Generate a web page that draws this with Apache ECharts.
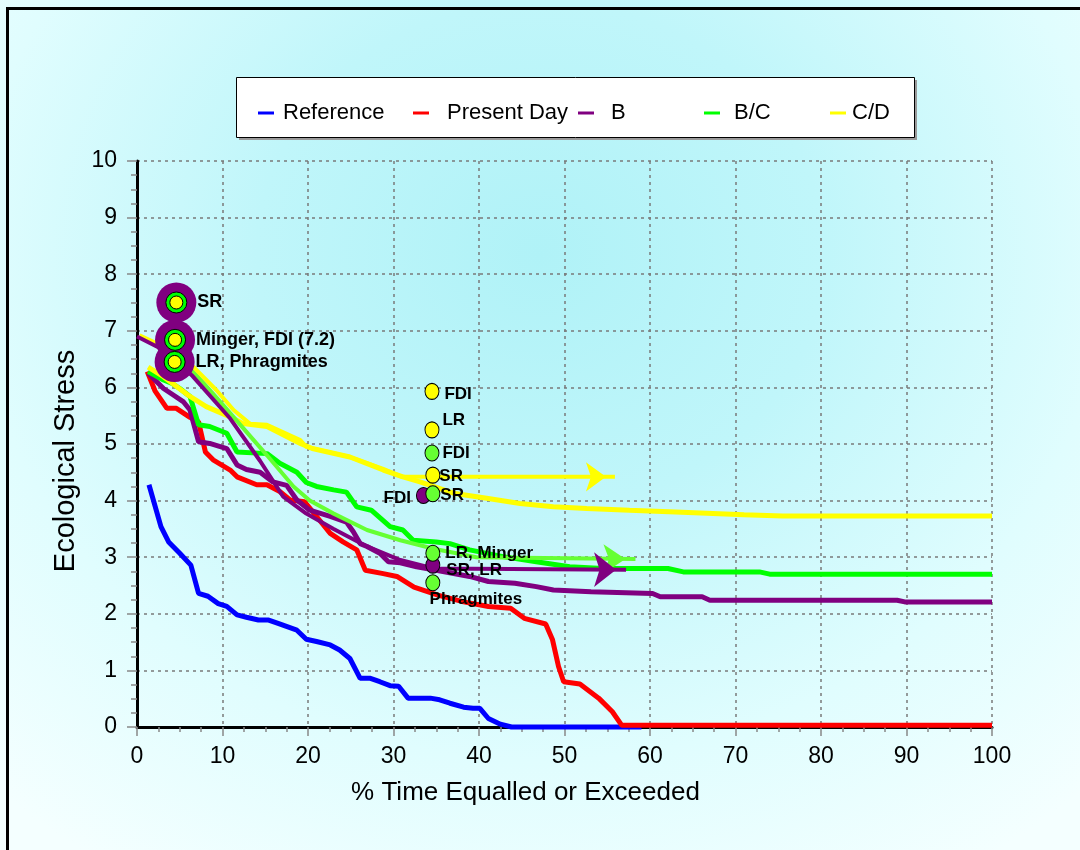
<!DOCTYPE html>
<html>
<head>
<meta charset="utf-8">
<script src="https://cdn.jsdelivr.net/npm/echarts@6/dist/echarts.min.js"></script>
<style>
  html, body { margin: 0; padding: 0; width: 1080px; height: 850px; overflow: hidden; }
  body { background: radial-gradient(ellipse 75% 85% at 50% 30%, #b0f2f7 0%, #c0f6fa 35%, #e0fdfe 70%, #f4ffff 100%); }
  #frame { position: absolute; left: 6px; top: 7px; width: 1080px; height: 850px; border-top: 3px solid #000; border-left: 3px solid #000; box-sizing: border-box; }
  #chart { position: absolute; left: 0; top: 0; width: 1080px; height: 850px; }
</style>
</head>
<body>
<div id="frame"></div>
<div id="chart"></div>
<script>
// ---------- data ----------
const seriesNames = ['Reference', 'Present Day', 'B', 'B/C', 'C/D'];

const reference = [[1.4,4.28],[2.8,3.54],[3.7,3.27],[5.0,3.07],[6.3,2.86],[7.2,2.36],[8.3,2.31],[9.5,2.18],[10.5,2.13],[11.7,1.98],[12.8,1.94],[14.2,1.89],[15.4,1.89],[16.5,1.83],[18.7,1.71],[19.8,1.55],[21.0,1.51],[22.6,1.45],[23.7,1.36],[24.9,1.21],[26.1,0.86],[27.3,0.86],[28.4,0.80],[29.6,0.73],[30.6,0.72],[31.7,0.51],[34.3,0.51],[35.4,0.48],[36.6,0.42],[38.2,0.35],[39.3,0.33],[40.1,0.33],[41.1,0.15],[42.5,0.05],[43.8,0.0],[59.0,0.0]];

const presentDay = [[1.2,6.28],[2.1,5.94],[3.5,5.63],[4.6,5.63],[6.2,5.47],[7.2,5.39],[8.0,4.86],[8.9,4.72],[10.9,4.54],[11.7,4.42],[14.0,4.28],[15.2,4.28],[16.7,4.16],[17.9,4.01],[19.6,3.98],[21.0,3.72],[22.6,3.42],[24.1,3.27],[25.7,3.13],[26.7,2.77],[28.8,2.71],[30.4,2.66],[32.4,2.47],[35.2,2.33],[38.2,2.21],[41.1,2.13],[43.7,2.10],[45.3,1.92],[47.8,1.82],[48.6,1.54],[49.3,1.07],[49.9,0.80],[51.8,0.76],[54.0,0.51],[55.6,0.27],[56.7,0.03],[100,0.03]];

const scenarioB = [[1.3,6.25],[3.1,5.98],[4.2,5.87],[5.4,5.75],[6.2,5.60],[7.2,5.04],[8.5,5.01],[10.5,4.92],[11.7,4.63],[12.8,4.55],[14.4,4.50],[15.9,4.33],[17.5,4.27],[18.7,4.01],[20.2,3.83],[22.6,3.72],[24.5,3.62],[25.3,3.45],[26.1,3.24],[26.9,3.19],[28.4,3.07],[29.4,2.92],[30.8,2.90],[32.7,2.83],[35.0,2.77],[38.9,2.66],[41.1,2.57],[44.2,2.54],[46.7,2.48],[48.7,2.42],[53.1,2.39],[60.3,2.36],[61.2,2.30],[66.1,2.30],[67.0,2.24],[88.9,2.24],[89.8,2.21],[100,2.21]];

const scenarioBC = [[1.3,6.28],[3.1,6.13],[4.1,6.07],[5.0,5.98],[6.2,5.84],[7.2,5.34],[8.5,5.31],[10.5,5.19],[11.7,4.86],[15.2,4.83],[16.7,4.66],[18.7,4.50],[19.8,4.32],[21.0,4.25],[23.0,4.19],[24.5,4.15],[25.7,3.89],[27.4,3.83],[29.6,3.54],[31.1,3.48],[32.3,3.30],[35.0,3.27],[36.6,3.24],[38.9,3.13],[42.8,3.01],[46.7,2.92],[50.6,2.83],[54.5,2.80],[62.1,2.80],[63.9,2.74],[72.8,2.74],[74.0,2.70],[100,2.70]];

const scenarioCD = [[1.3,6.36],[3.1,6.19],[6.2,5.84],[8.1,5.66],[10.9,5.48],[12.4,5.36],[15.2,5.31],[19.1,5.01],[20.5,4.92],[24.9,4.77],[27.3,4.63],[28.8,4.54],[31.1,4.42],[33.1,4.33],[37.0,4.13],[40.9,4.04],[44.8,3.95],[48.7,3.89],[52.6,3.86],[57.6,3.83],[63.0,3.80],[71.0,3.75],[75.5,3.73],[100,3.73]];

// trend arrows
const arrowB = [[0,6.9],[3,6.67],[6.5,6.2],[10.9,5.45],[14.4,4.7],[17.1,4.07],[19.8,3.77],[23.0,3.5],[26.9,3.19],[30.8,2.95],[34.7,2.80],[57.2,2.78]];
const arrowBC = [[4.5,6.6],[6.4,6.31],[10.0,5.7],[15.2,4.8],[18.3,4.25],[20.2,4.0],[23.0,3.77],[26.9,3.48],[30.8,3.30],[34.7,3.15],[39.7,3.0],[58.3,2.97]];
const arrowCD = [[0.3,6.92],[3.1,6.72],[6.6,6.36],[9.3,5.95],[11.3,5.6],[13.2,5.36],[15.2,5.34],[19.1,5.07],[19.8,4.95],[24.9,4.77],[28.8,4.56],[31.0,4.42],[55.9,4.42]];

// site markers
const bigMarkers = [[4.6,7.5,'SR'],[4.45,6.84,'Minger, FDI (7.2)'],[4.4,6.45,'LR, Phragmites']];
const yellowMarkers = [[34.5,5.93,'FDI'],[34.5,5.25,'LR'],[34.6,4.45,'SR']];
const purpleMarkers = [[33.5,4.09,'FDI'],[34.6,2.86,'SR, LR']];
const greenMarkers = [[34.5,4.84,'FDI'],[34.6,4.12,'SR'],[34.6,3.07,'LR, Minger'],[34.6,2.55,'Phragmites']];

const xTicks = { min: 0, max: 100, interval: 10 };
const yTicks = { min: 0, max: 10, interval: 1 };

// ---------- styles ----------
const FONT = '"Liberation Sans", Arial, Helvetica, sans-serif';
const colors = { ref: '#0000ff', pd: '#ff0000', b: '#800080', bc: '#00ff00', cd: '#ffff00', lg: '#66ff33' };

const labelOffsets = {
  'yellow-FDI': { position: 'right', offset: [2, 3] },
  'yellow-LR': { position: 'right', offset: [0, -10] },
  'yellow-SR': { position: 'right', offset: [-4, 1] },
  'green-FDI': { position: 'right', offset: [0, 0] },
  'green-SR': { position: 'right', offset: [-3, 2] },
  'green-LR, Minger': { position: 'right', offset: [2, 0] },
  'green-Phragmites': { position: 'bottom', offset: [43, -3] },
  'purple-FDI': { position: 'left', offset: [-2, 3] },
  'purple-SR, LR': { position: 'right', offset: [3, 5] }
};

function lineSeries(name, data, color, width, z) {
  return {
    name: name, type: 'line', data: data, showSymbol: false, symbol: 'none',
    lineStyle: { color: color, width: width }, itemStyle: { color: color },
    z: z, animation: false, clip: false
  };
}

function markerSeries(group, pts, color, size) {
  return {
    type: 'scatter', z: 20, animation: false,
    data: pts.map(p => {
      const lo = labelOffsets[group + '-' + p[2]];
      return {
        value: [p[0], p[1]],
        label: { show: true, formatter: p[2], position: lo.position, offset: lo.offset, distance: 3 }
      };
    }),
    symbol: 'circle', symbolSize: size,
    itemStyle: { color: color, borderColor: '#000', borderWidth: 1, opacity: 1 },
    label: { color: '#000', fontWeight: 'bold', fontSize: 17, fontFamily: FONT }
  };
}

function arrowHead(data, color, size) {
  const last = data[data.length - 1];
  return {
    type: 'scatter', z: 9, animation: false, silent: true,
    data: [last],
    symbol: 'arrow', symbolRotate: -90, symbolSize: size, symbolOffset: [-size[1] / 2 + 1, 0],
    itemStyle: { color: color, opacity: 1 }
  };
}

const chart = echarts.init(document.getElementById('chart'), null, { renderer: 'canvas' });

const legendLefts = [253, 408, 573, 699, 825];
const legendPads = [4, 13, 12, 9, 1];
const legends = seriesNames.map((n, i) => ({
  data: [n], left: legendLefts[i], top: 97, icon: 'rect', itemWidth: 16, itemHeight: 3,
  itemGap: 0, selectedMode: false,
  textStyle: { fontSize: 22, fontFamily: FONT, color: '#000', padding: [0, 0, 0, legendPads[i]] }
}));

const option = {
  backgroundColor: 'transparent',
  textStyle: { fontFamily: FONT },
  legend: legends,
  graphic: [
    { type: 'rect', left: 239, top: 80, shape: { width: 678, height: 60 }, style: { fill: '#9a9a9a' }, z: -2 },
    { type: 'rect', left: 236, top: 77, shape: { width: 678, height: 60 }, style: { fill: '#fff', stroke: '#000', lineWidth: 1 }, z: -1 }
  ],
  grid: { left: 137, right: 88, top: 161, bottom: 123, containLabel: false },
  xAxis: {
    type: 'value', min: xTicks.min, max: xTicks.max, interval: xTicks.interval,
    name: '% Time Equalled or Exceeded', nameLocation: 'middle', nameGap: 53,
    nameTextStyle: { fontSize: 26, color: '#000', fontFamily: FONT, padding: [0, 78, 0, 0] },
    axisLine: { show: true, onZero: false, lineStyle: { color: '#000', width: 3 } },
    axisTick: { show: true, length: 9, lineStyle: { color: '#888', width: 1.5 } },
    minorTick: { show: true, splitNumber: 4, length: 5, lineStyle: { color: '#888', width: 1.5 } },
    axisLabel: { fontSize: 23, color: '#000', margin: 18, fontFamily: FONT },
    splitLine: { show: true, lineStyle: { color: '#7a7a7a', type: [3, 4], width: 1.5 } }
  },
  yAxis: [{
    type: 'value', min: yTicks.min, max: yTicks.max, interval: yTicks.interval,
    name: 'Ecological Stress', nameLocation: 'middle', nameGap: 50,
    nameTextStyle: { fontSize: 29, color: '#000', fontFamily: FONT, padding: [0, 34, 0, 0] },
    axisLine: { show: true, onZero: false, lineStyle: { color: '#000', width: 3 } },
    axisTick: { show: true, length: 10, lineStyle: { color: '#888', width: 1.5 } },
    minorTick: { show: true, splitNumber: 4, length: 6, lineStyle: { color: '#888', width: 1.5 } },
    axisLabel: { fontSize: 23, color: '#000', margin: 20, fontFamily: FONT },
    splitLine: { show: true, lineStyle: { color: '#7a7a7a', type: [3, 4], width: 1.5 } }
  }, {
    type: 'value', min: yTicks.min, max: yTicks.max, interval: yTicks.interval, position: 'right',
    axisLine: { show: true, lineStyle: { color: '#000', width: 1 } },
    axisTick: { show: false }, axisLabel: { show: false }, splitLine: { show: false }
  }],
  series: [
    lineSeries('Reference', reference, colors.ref, 5, 2),
    lineSeries('Present Day', presentDay, colors.pd, 5, 3),
    lineSeries('B', scenarioB, colors.b, 5, 4),
    lineSeries('B/C', scenarioBC, colors.bc, 5, 5),
    lineSeries('C/D', scenarioCD, colors.cd, 5, 6),
    lineSeries('arrowBC', arrowBC, colors.lg, 4, 7),
    lineSeries('arrowB', arrowB, colors.b, 4, 8),
    lineSeries('arrowCD', arrowCD, colors.cd, 4, 7),
    arrowHead(arrowBC, colors.lg, [22, 22]),
    arrowHead(arrowB, colors.b, [26, 22]),
    arrowHead(arrowCD, colors.cd, [22, 20]),
    // big concentric markers
    {
      type: 'scatter', z: 18, animation: false, symbol: 'circle', symbolSize: 40,
      itemStyle: { color: colors.b, opacity: 1 },
      data: bigMarkers.map(p => ({ value: [p[0], p[1]], label: { show: true, formatter: p[2] } })),
      label: { position: 'right', distance: 1, color: '#000', fontWeight: 'bold', fontSize: 18, fontFamily: FONT }
    },
    {
      type: 'scatter', z: 19, animation: false, symbol: 'circle', symbolSize: 21,
      itemStyle: { color: colors.bc, borderColor: '#000', borderWidth: 1, opacity: 1 },
      data: bigMarkers.map(p => [p[0], p[1]])
    },
    {
      type: 'scatter', z: 19, animation: false, symbol: 'circle', symbolSize: 13,
      itemStyle: { color: colors.cd, borderColor: '#000', borderWidth: 1, opacity: 1 },
      data: bigMarkers.map(p => [p[0], p[1]])
    },
    markerSeries('purple', purpleMarkers, colors.b, [14, 16]),
    markerSeries('yellow', yellowMarkers, colors.cd, [14, 16]),
    markerSeries('green', greenMarkers, colors.lg, [14, 16])
  ]
};
chart.setOption(option);
</script>
</body>
</html>
